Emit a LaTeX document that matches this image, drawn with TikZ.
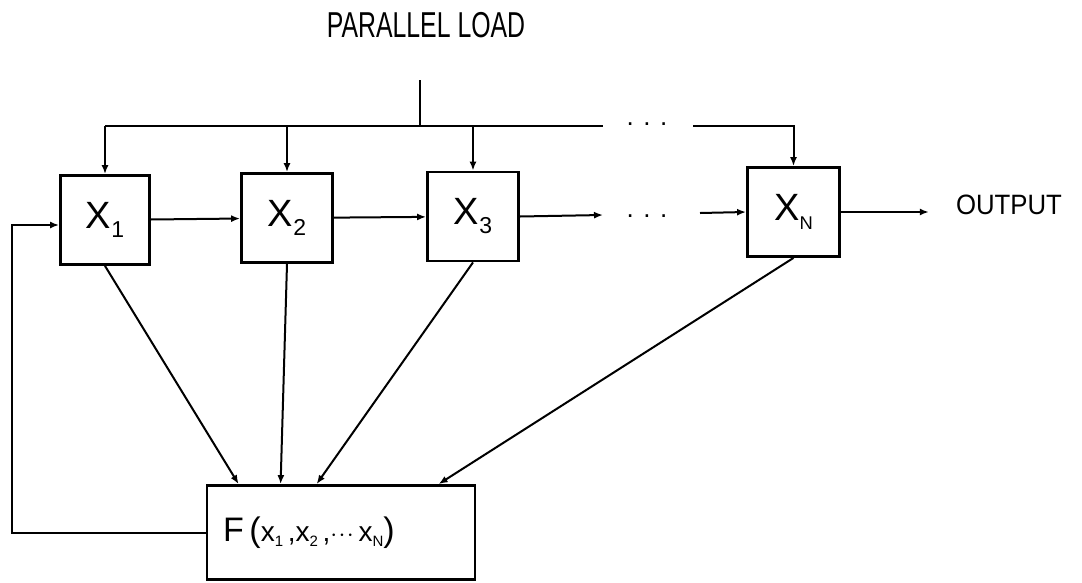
\documentclass[tikz,border=0pt]{standalone}
\usepackage{fontspec}
\setmainfont{Liberation Sans}
\usetikzlibrary{arrows.meta,calc}

% register label: capital X with a lowered index
\newcommand\reglab[1]{{\fontsize{38}{38}\selectfont X}\raisebox{-9pt}{\fontsize{23}{23}\selectfont #1}}
\newcommand\argsub[1]{\raisebox{-5pt}{\fontsize{15}{15}\selectfont #1}}
\newcommand\bigtxt[1]{{\fontsize{34}{34}\selectfont #1}}

\begin{document}
\begin{tikzpicture}[x=1pt,y=-1pt,
  reg/.style={draw, line width=2.8pt, minimum width=89pt, minimum height=89pt, inner sep=0pt},
  wire/.style={line width=2pt},
  link/.style={line width=2pt, -{Latex[length=9pt,width=7pt]}},
  dotsn/.style={font=\fontsize{26}{26}\selectfont, inner sep=0pt}]

\useasboundingbox (0,0) rectangle (1082,582);

% title
\node[font=\fontsize{36}{36}\selectfont, inner sep=0pt] (title) at (426,25)
  {\scalebox{0.69}[1]{PARALLEL LOAD}};

% shift register stages
\node[reg] (X1) at (105,220) {\reglab{1}};
\node[reg, minimum width=91pt] (X2) at (287,218) {\reglab{2}};
\node[reg, minimum width=91pt] (X3) at (473,216.5) {\reglab{3}};
\node[reg, minimum width=92pt] (XN) at (793.5,212) {\reglab{\scalebox{0.8}{N}}};

% feedback function block
\node[draw, line width=2.8pt, minimum height=94pt, text width=236pt, inner xsep=16pt,
      align=left, font=\fontsize{28}{28}\selectfont] (F) at (341,532.5)
  {\bigtxt{F\,(}x\argsub{1}\,,x\argsub{2}\,,$\cdot\!\cdot\!\cdot$\,x\argsub{N}\bigtxt{)}};

\node[font=\fontsize{28}{28}\selectfont, inner sep=0pt] (out) at (1009,205)
  {\scalebox{0.92}[1]{OUTPUT}};

% parallel load bus
\coordinate (top) at (420,80);
\coordinate (bus) at (420,126);
\coordinate (busgapL) at (603,126);
\coordinate (busgapR) at (693,126);
\node[dotsn] (bdots) at (647,124) {. . .};
\draw[wire] (top) -- (bus);
\draw[wire] (X1.north |- bus) -- (busgapL);
\draw[link] (busgapR) -| (XN.north);
\draw[link] (X1.north |- bus) -- (X1.north);
\draw[link] (X2.north |- bus) -- (X2.north);
\draw[link] (X3.north |- bus) -- (X3.north);

% serial chain
\coordinate (chainL) at (603,215);
\coordinate (chainR) at (700,213);
\node[dotsn] (cdots) at (647,216) {. . .};
\draw[link] (X1) -- (X2);
\draw[link] (X2) -- (X3);
\draw[link] (X3.east) -- (chainL);
\draw[link] (chainR) -- (XN.west);
\draw[link] (XN.east) -- ($(out.west)+(-27,7)$);

% taps into the function block
\draw[link] (X1.south) -- ($(F.north west)+(33,0)$);
\draw[link] (X2.south) -- ($(F.north west)+(75,0)$);
\draw[link] (X3.south) -- ($(F.north west)+(111,0)$);
\draw[link] (XN.south) -- ($(F.north west)+(233,0)$);

% feedback into the first stage
\draw[link] (F.west) -- ++(-194,0) |- ($(X1.west)+(0,5)$);

\end{tikzpicture}
\end{document}
